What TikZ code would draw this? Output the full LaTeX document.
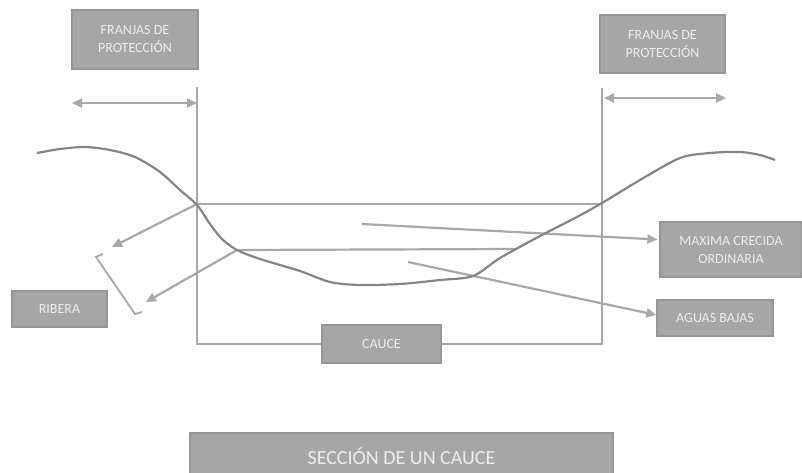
\documentclass[tikz,border=0pt]{standalone}
\usepackage{fontspec}
\setmainfont{Carlito}
\usetikzlibrary{arrows.meta,calc}
\definecolor{boxfill}{HTML}{A6A6A6}
\definecolor{boxedge}{HTML}{969696}
\definecolor{boxtext}{HTML}{EDEDED}
\definecolor{linegray}{HTML}{A8A8A8}
\definecolor{curvegray}{HTML}{858585}
\tikzset{
  label box/.style={draw=boxedge, line width=1.2pt, fill=boxfill, text=boxtext,
    align=center, inner sep=0pt, font=\fontsize{14}{18}\selectfont},
  guide/.style={draw=linegray, line width=2.2pt},
  pointer/.style={guide, -{Triangle[length=10pt,width=9pt]}},
  span/.style={guide, {Triangle[length=10pt,width=9pt]}-{Triangle[length=10pt,width=9pt]}},
  ground/.style={draw=curvegray, line width=2.2pt}
}
\begin{document}
\begin{tikzpicture}[x=1pt,y=-1pt]
\useasboundingbox (0,0) rectangle (802,472);
% boxes
\node[label box, minimum width=126pt, minimum height=59pt] (FL) at (135,39.5) {FRANJAS DE\\PROTECCIÓN};
\node[label box, minimum width=125pt, minimum height=58pt] (FR) at (662.5,44) {FRANJAS DE\\PROTECCIÓN};
\node[label box, minimum width=142pt, minimum height=55pt] (MAX) at (731,249.5) {MAXIMA CRECIDA\\ORDINARIA};
\node[label box, minimum width=116pt, minimum height=36pt] (AB) at (715,318) {AGUAS BAJAS};
\node[label box, minimum width=95pt, minimum height=36pt] (RIB) at (59.5,309) {RIBERA};
\node[label box, minimum width=119pt, minimum height=38pt] (CAU) at (381.5,344) {CAUCE};
\node[label box, minimum width=423pt, minimum height=46pt, font=\fontsize{20}{24}\selectfont] (SEC) at (401.5,456) {SECCIÓN DE UN CAUCE};
% coordinates
\coordinate (LT) at (197,87);
\coordinate (LB) at (197,344);
\coordinate (RT) at (602,88);
\coordinate (RB) at (602,344);
\coordinate (P1) at (197,204);
\coordinate (P1r) at (602,204);
\coordinate (P2) at (237,250);
\coordinate (P2r) at (515,249);
\coordinate (M0) at (362,224);
\coordinate (A0) at (408,262);
\coordinate (R1) at (112,247);
\coordinate (R2) at (146,302);
\coordinate (DL1) at (72,103);
\coordinate (DL2) at (197,103);
\coordinate (DR1) at (604,98);
\coordinate (DR2) at (726,98);
% verticals and base
\draw[guide] (LT) -- (LB) -- (CAU.west);
\draw[guide] (RT) -- (RB) -- (CAU.east);
% levels
\draw[guide] (P1) -- (P1r);
\draw[guide] (P2) -- (P2r);
% spans
\draw[span] (DL1) -- (DL2);
\draw[span] (DR1) -- (DR2);
% pointers
\draw[pointer] (M0) -- ($(MAX.west)+(-2,-10)$);
\draw[pointer] (A0) -- ($(AB.west)+(0,-3)$);
\draw[pointer] (P1) -- (R1);
\draw[pointer] (P2) -- (R2);
% bracket
\draw[guide, line width=1.8pt] (103,254) -- (96,257) -- (135,314) -- (142,312);
% ground profile
\draw[ground] plot[smooth, tension=0.5] coordinates {
 (37,153) (60,149) (85,147) (110,150) (135,157) (160,172) (180,190) (197,205)
 (210,224) (222,239) (237,250) (260,259) (300,271) (330,282) (360,285) (400,284)
 (440,280) (473,276) (500,258) (540,236) (575,218) (602,203) (640,180) (680,158)
 (710,153) (740,152) (760,155) (775,160)};
\end{tikzpicture}
\end{document}
